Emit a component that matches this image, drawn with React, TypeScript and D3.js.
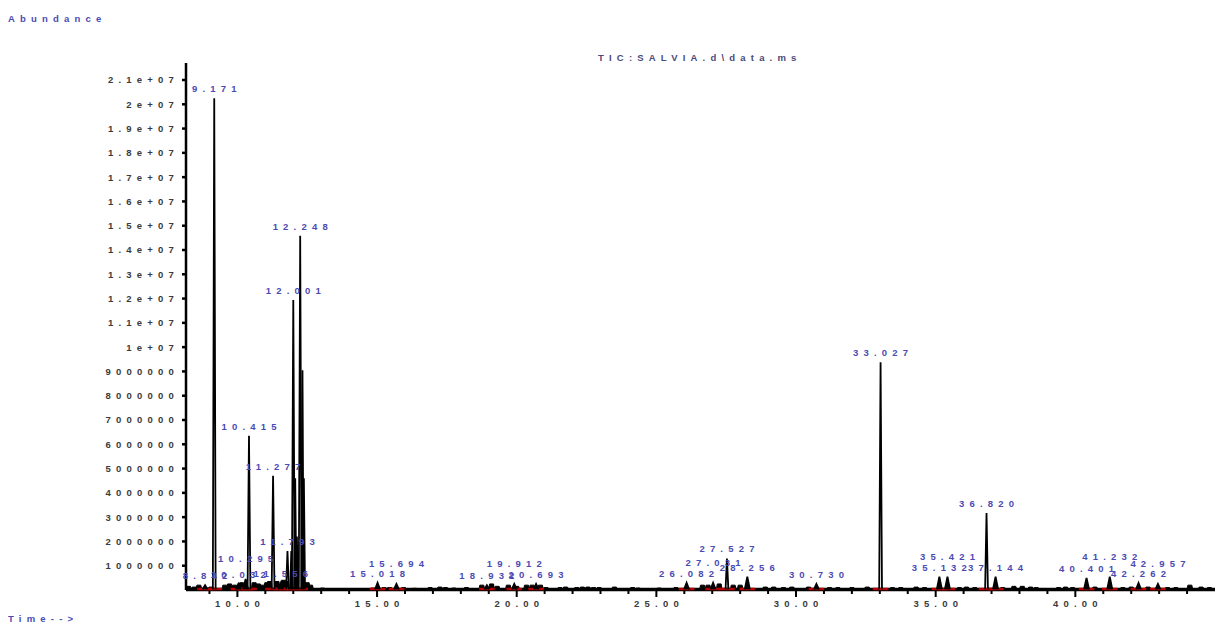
import * as d3 from "d3";

const WIDTH = 1217;
const HEIGHT = 625;

// labelled peaks (retention time, min) and their apex abundance
const peakTimes = [
  8.842, 9.171, 10.032, 10.295, 10.415, 11.277, 11.556, 11.793, 12.001, 12.248,
  15.018, 15.694, 18.932, 19.912, 20.693, 26.082, 27.031, 27.527, 28.256, 30.73,
  33.027, 35.132, 35.421, 36.82, 37.144, 40.401, 41.232, 42.262, 42.957,
];
const peakHeights = [
  0.2e6, 2.025e7, 0.25e6, 0.45e6, 6.35e6, 4.7e6, 0.3e6, 1.6e6, 1.194e7, 1.459e7,
  0.3e6, 0.25e6, 0.2e6, 0.25e6, 0.25e6, 0.3e6, 0.3e6, 1.3e6, 0.55e6, 0.25e6,
  9.38e6, 0.55e6, 0.55e6, 3.17e6, 0.55e6, 0.5e6, 0.55e6, 0.29e6, 0.25e6,
];

// unlabelled co-eluting peaks around 12 min
const clusterTimes = [11.93, 12.07, 12.13, 12.33, 12.38];
const clusterHeights = [1.6e6, 4.6e6, 2.2e6, 9.05e6, 4.6e6];

// small baseline bumps
const noiseTimes = [
  8.25, 8.45, 8.62, 9.05, 9.55, 9.72, 9.9, 10.15, 10.6, 10.75, 10.9, 11.05, 11.15,
  11.42, 11.65, 11.75, 12.5, 12.62, 13.05, 13.4, 14.85, 15.25, 15.45, 15.95, 16.35,
  16.9, 17.25, 17.45, 17.75, 18.2, 18.75, 19.1, 19.3, 19.7, 20.0, 20.35, 20.55,
  20.85, 21.05, 21.55, 21.75, 22.15, 22.35, 22.55, 22.75, 22.95, 23.5, 24.15, 24.35,
  25.1, 25.7, 26.65, 26.85, 27.25, 27.75, 28.0, 28.9, 29.2, 29.55, 29.85, 30.45,
  31.2, 31.5, 32.0, 32.55, 33.45, 33.75, 34.3, 34.6, 35.85, 36.1, 36.4, 37.4, 37.8,
  38.1, 38.4, 38.6, 39.4, 39.65, 39.9, 40.7, 41.7, 42.0, 42.6, 43.3, 43.6, 44.1,
  44.5, 44.8,
];
const noiseHeights = [
  0.15e6, 0.12e6, 0.2e6, 0.12e6, 0.2e6, 0.25e6, 0.2e6, 0.3e6, 0.3e6, 0.25e6, 0.2e6, 0.3e6, 0.35e6,
  0.35e6, 0.4e6, 0.35e6, 0.3e6, 0.2e6, 0.08e6, 0.05e6, 0.08e6, 0.1e6, 0.1e6, 0.1e6, 0.07e6,
  0.1e6, 0.12e6, 0.1e6, 0.08e6, 0.1e6, 0.2e6, 0.25e6, 0.15e6, 0.2e6, 0.15e6, 0.2e6, 0.2e6,
  0.2e6, 0.1e6, 0.1e6, 0.12e6, 0.1e6, 0.12e6, 0.12e6, 0.1e6, 0.1e6, 0.12e6, 0.1e6, 0.08e6,
  0.08e6, 0.1e6, 0.2e6, 0.2e6, 0.25e6, 0.2e6, 0.2e6, 0.12e6, 0.12e6, 0.1e6, 0.12e6, 0.12e6,
  0.1e6, 0.1e6, 0.1e6, 0.12e6, 0.1e6, 0.1e6, 0.12e6, 0.1e6, 0.1e6, 0.12e6, 0.1e6, 0.1e6, 0.15e6,
  0.15e6, 0.12e6, 0.1e6, 0.1e6, 0.12e6, 0.1e6, 0.12e6, 0.1e6, 0.12e6, 0.12e6, 0.1e6, 0.1e6, 0.2e6,
  0.12e6, 0.1e6,
];

const yTicks = [
  1e6, 2e6, 3e6, 4e6, 5e6, 6e6, 7e6, 8e6, 9e6, 1e7, 1.1e7, 1.2e7, 1.3e7, 1.4e7,
  1.5e7, 1.6e7, 1.7e7, 1.8e7, 1.9e7, 2e7, 2.1e7,
];
const yTickLabels = [
  "1000000", "2000000", "3000000", "4000000", "5000000", "6000000", "7000000",
  "8000000", "9000000", "1e+07", "1.1e+07", "1.2e+07", "1.3e+07", "1.4e+07",
  "1.5e+07", "1.6e+07", "1.7e+07", "1.8e+07", "1.9e+07", "2e+07", "2.1e+07",
];
const xMajorTicks = [10, 15, 20, 25, 30, 35, 40];
const xTickLabels = ["10.00", "15.00", "20.00", "25.00", "30.00", "35.00", "40.00"];

const FONT = "'Liberation Sans', Arial, sans-serif";
const FONT_SIZE = 9.5;
const SPACING = 5.2;
const LABEL_BLUE = "#4a4ab4";
const TICK_TEXT = "#3a3a3a";

const margin = { top: 63, right: 2, bottom: 35, left: 186 };

const x = d3
  .scaleLinear()
  .domain([8.16, 45])
  .range([margin.left, WIDTH - margin.right]);
const y = d3
  .scaleLinear()
  .domain([0, 2.17e7])
  .range([HEIGHT - margin.bottom, margin.top]);

const BASE = 0.03e6;
const line = d3
  .line<[number, number]>()
  .x((d) => x(d[0]))
  .y((d) => y(d[1]));

const spike = (t: number, h: number, w: number) =>
  line([
    [t - w, BASE],
    [t, h],
    [t + w, BASE],
  ]) ?? "";

const bump = (t: number, h: number) =>
  line([
    [t - 0.1, BASE],
    [t - 0.07, h],
    [t + 0.07, h],
    [t + 0.1, BASE],
  ]) ?? "";

function textWidth(s: string) {
  return s.length * (5.3 + SPACING) - SPACING;
}

// lift a peak label when it would sit on the label just before it
function placeLabels() {
  const placed: { t: number; x: number; y: number; text: string }[] = [];
  peakTimes.forEach((t, i) => {
    const text = t.toFixed(3);
    const px = x(t);
    let py = y(peakHeights[i]) - 6;
    const w = textWidth(text);
    const prev = placed[placed.length - 1];
    while (prev && Math.abs(prev.x - px) < w * 0.85 && Math.abs(prev.y - py) < 9) {
      py -= 11;
    }
    placed.push({ t, x: px, y: py, text });
  });
  return placed;
}

export default function App() {
  const labels = placeLabels();
  const y0 = y(0);
  const minorTicks = d3.range(9, 45).filter((v) => !xMajorTicks.includes(v));

  return (
    <svg
      width={WIDTH}
      height={HEIGHT}
      style={{ position: "absolute", left: 0, top: 0, background: "#fff" }}
      fontFamily={FONT}
      fontSize={FONT_SIZE}
      fontWeight="bold"
      letterSpacing={SPACING}
    >
      <text x={8} y={21.5} fill={LABEL_BLUE}>
        Abundance
      </text>
      <text x={598} y={61} fill="#4a4a7a">
        {"TIC:SALVIA.d\\data.ms"}
      </text>
      <text x={8} y={621.5} fill={LABEL_BLUE}>
        {"Time-->"}
      </text>

      {/* y axis */}
      <line x1={margin.left} x2={margin.left} y1={margin.top} y2={y0} stroke="#000" strokeWidth={2.5} />
      {yTicks.map((v, i) => (
        <g key={v} transform={`translate(0,${y(v)})`}>
          <line x1={margin.left - 4} x2={margin.left} stroke="#000" strokeWidth={2.5} />
          <text x={margin.left - 7} y={3.4} textAnchor="end" fill={TICK_TEXT}>
            {yTickLabels[i]}
          </text>
        </g>
      ))}

      {/* x axis */}
      <line x1={margin.left} x2={WIDTH - margin.right} y1={y0} y2={y0} stroke="#000" strokeWidth={2.5} />
      {minorTicks.map((v) => (
        <line key={v} x1={x(v)} x2={x(v)} y1={y0} y2={y0 + 4} stroke="#000" strokeWidth={2} />
      ))}
      {xMajorTicks.map((v, i) => (
        <g key={v} transform={`translate(${x(v)},0)`}>
          <line y1={y0} y2={y0 + 7} stroke="#000" strokeWidth={2} />
          <text x={SPACING / 2} y={y0 + 17} textAnchor="middle" fill={TICK_TEXT}>
            {xTickLabels[i]}
          </text>
        </g>
      ))}

      {/* trace baseline */}
      <line x1={margin.left} x2={WIDTH - margin.right} y1={y(BASE)} y2={y(BASE)} stroke="#000" strokeWidth={3} />

      {/* small bumps */}
      {noiseTimes.map((t, i) => (
        <path key={t} d={bump(t, noiseHeights[i])} fill="#000" stroke="#000" strokeWidth={1} />
      ))}

      {/* integration marks */}
      {peakTimes.map((t) => (
        <line key={t} x1={x(t - 0.28)} x2={x(t + 0.28)} y1={y0 - 1} y2={y0 - 1} stroke="#b40000" strokeWidth={2.5} />
      ))}

      {/* peaks */}
      {clusterTimes.map((t, i) => (
        <path key={t} d={spike(t, clusterHeights[i], 0.04)} fill="none" stroke="#000" strokeWidth={1.8} />
      ))}
      {peakTimes.map((t, i) => (
        <path
          key={t}
          d={spike(t, peakHeights[i], peakHeights[i] > 1e6 ? 0.05 : 0.09)}
          fill={peakHeights[i] > 1e6 ? "none" : "#000"}
          stroke="#000"
          strokeWidth={1.8}
        />
      ))}

      {/* peak labels */}
      {labels.map((l) => (
        <text key={l.t} x={l.x + SPACING / 2} y={l.y} textAnchor="middle" fill={LABEL_BLUE}>
          {l.text}
        </text>
      ))}
    </svg>
  );
}
